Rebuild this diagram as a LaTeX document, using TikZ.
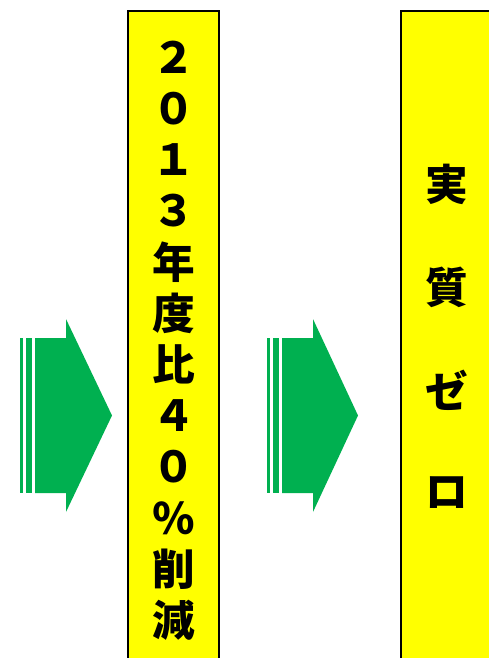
\documentclass[tikz,border=0pt]{standalone}
\usepackage{fontspec}
\newfontfamily\jpfont{Noto Sans CJK JP Black}
\definecolor{arrowgreen}{HTML}{00B050}
\definecolor{boxyellow}{HTML}{FFFF00}
\begin{document}
\begin{tikzpicture}[x=0.75pt,y=-0.75pt,
  colchar/.style={font=\jpfont\fontsize{32}{32}\selectfont,inner sep=0pt}]
\useasboundingbox (0,0) rectangle (489,658);
\clip (0,0) rectangle (489,658);
% first arrow
\begin{scope}
\fill[arrowgreen] (20,338) rectangle (23,493);
\fill[arrowgreen] (26,338) rectangle (32,493);
\fill[arrowgreen] (35,338) -- (66,338) -- (66,319) -- (112,415.5) -- (66,512) -- (66,493) -- (35,493) -- cycle;
\end{scope}
% second arrow
\begin{scope}[shift={(247,0)}]
\fill[arrowgreen] (20,338) rectangle (23,493);
\fill[arrowgreen] (26,338) rectangle (32,493);
\fill[arrowgreen] (35,338) -- (66,338) -- (66,319) -- (111,415.5) -- (66,512) -- (66,493) -- (35,493) -- cycle;
\end{scope}
% yellow columns
\draw[fill=boxyellow,line width=1.5pt] (128,10.5) rectangle (218.5,690);
\draw[fill=boxyellow,line width=1.5pt] (400.5,10.5) rectangle (520,690);
\foreach \c [count=\i from 0] in {２,０,１,３,年,度,比,４,０,％,削,減}
  \node[colchar] (a\i) at (173.5,57+51.2*\i) {\c};
\foreach \c [count=\i from 0] in {実,質,ゼ,ロ}
  \node[colchar] (b\i) at (447,184+103*\i) {\c};
\end{tikzpicture}
\end{document}
